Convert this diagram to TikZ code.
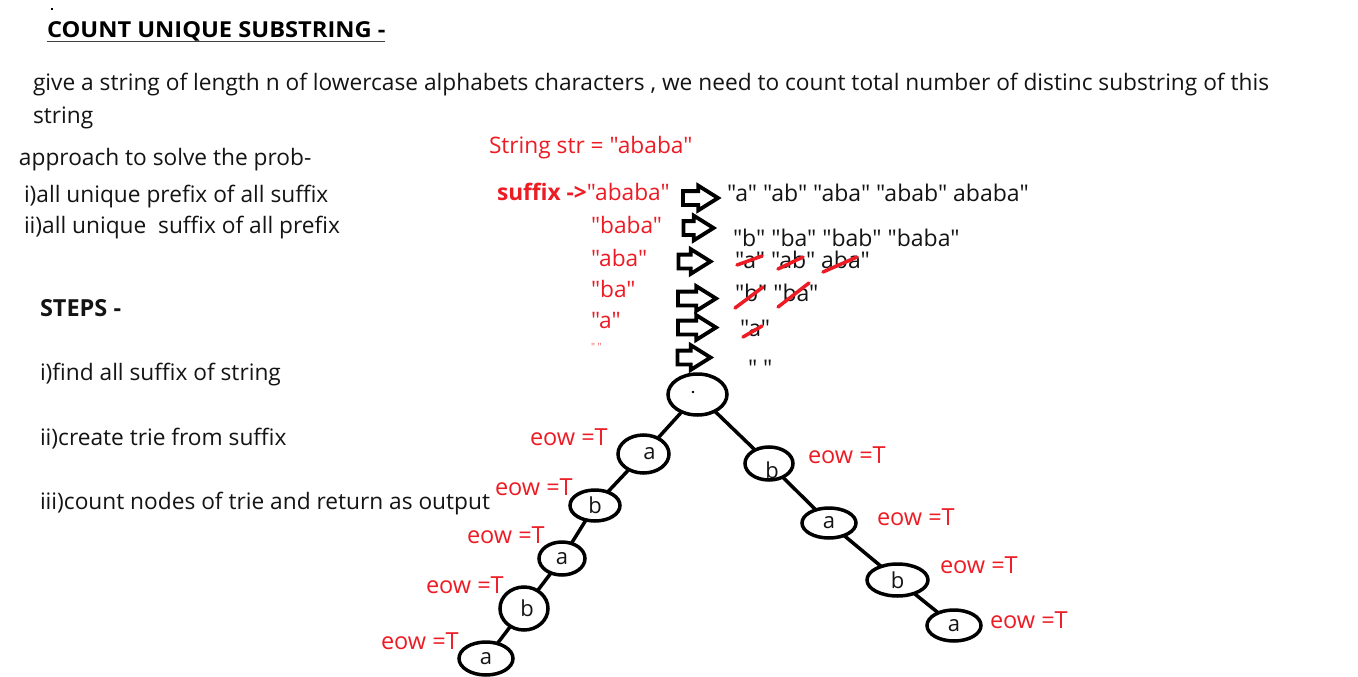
\documentclass[tikz,border=0pt]{standalone}
\usepackage{fontspec}
\setmainfont{Open Sans}[Ligatures=TeXOff]
\usetikzlibrary{shapes.geometric,shapes.arrows}
\definecolor{pred}{RGB}{237,28,36}
\definecolor{ink}{RGB}{20,20,20}
\begin{document}
\begin{tikzpicture}[x=1pt,y=-1pt,
  every node/.style={inner sep=0pt,outer sep=0pt},
  txt/.style={anchor=base west,text=ink,font=\fontsize{22.7}{27}\selectfont},
  ptxt/.style={anchor=base west,text=ink,font=\fontsize{23}{27}\selectfont},
  rtxt/.style={anchor=base west,text=pred,font=\fontsize{22.7}{27}\selectfont},
  eow/.style={anchor=base west,text=pred,font=\fontsize{23.5}{27}\selectfont},
  tnode/.style={draw=black,line width=3.5pt,ellipse,text=ink,font=\fontsize{22}{27}\selectfont},
  tedge/.style={draw=black,line width=3.5pt},
  strike/.style={draw=pred,line width=3.5pt,line cap=round},
  blockarr/.style={single arrow,draw=black,line width=3.8pt,inner xsep=0pt,inner ysep=5pt,
     single arrow head extend=5.5pt,single arrow tip angle=64,anchor=center}]
\useasboundingbox (0,0) rectangle (1358,677);
\fill[white] (0,0) rectangle (1358,677);
% tiny dot
\fill[black] (51,8) rectangle (53,10);
% title
\node[anchor=base west,text=black,font=\fontsize{22}{26}\selectfont\bfseries] (title) at (47,38) {\scalebox{1.075}[1]{COUNT UNIQUE SUBSTRING -}};
\draw[black!75,line width=1.6pt] (title.base west)++(0,3.5) -- ++(338,0);
% left texts
\node[txt] (desc1) at (33,91) {give a string of length n of lowercase alphabets characters , we need to count total number of distinc substring of this};
\node[txt] (desc2) at (33,123) {string};
\node[txt] (appr) at (19,165) {approach to solve the prob-};
\node[txt] (ap1) at (24,202) {i)all unique prefix of all suffix};
\node[txt] (ap2) at (24,233) {ii)all unique~ suffix of all prefix};
\node[anchor=base west,text=ink,font=\fontsize{23.5}{27}\selectfont\bfseries] (steps) at (40,316) {STEPS -};
\node[txt] (st1) at (40,380) {i)find all suffix of string};
\node[txt] (st2) at (40,445) {ii)create trie from suffix};
\node[txt] (st3) at (40,509) {iii)count nodes of trie and return as output};
% red string column
\node[rtxt] (str) at (489,153) {String str = "ababa"};
\node[rtxt] (s1) at (497,200) {\bfseries suffix ->\mdseries"ababa"};
\node[rtxt] (s2) at (591,233) {"baba"};
\node[rtxt] (s3) at (591,266) {"aba"};
\node[rtxt] (s4) at (591,297) {"ba"};
\node[rtxt] (s5) at (591,328) {"a"};
\node[anchor=base west,text=pred!70,font=\fontsize{10}{11}\selectfont] (s6) at (591,350) {" "};
% block arrows
\node[blockarr,minimum height=35pt] (a1) at (695,198) {};
\node[blockarr,minimum height=30pt] (a2) at (693,228) {};
\node[blockarr,minimum height=32pt] (a3) at (689,261.5) {};
\node[blockarr,minimum height=38pt] (a4) at (691.5,298.5) {};
\node[blockarr,minimum height=38pt] (a5) at (691.5,327.5) {};
\node[blockarr,minimum height=33pt] (a6) at (688.5,357.5) {};
% prefixes
\node[ptxt] (p1) at (727,201) {"a" "ab" "aba" "abab" ababa"};
\node[ptxt] (p2) at (733,246) {"b" "ba" "bab" "baba"};
\node[ptxt] (p3) at (735,268) {"a" "ab" aba"};
\node[ptxt] (p4) at (735,301) {"b" "ba"};
\node[ptxt] (p5) at (740,336) {"a"};
\node[ptxt] (p6) at (748,376) {" "};
% strikes
\draw[strike] (737,265) -- (762,256);
\draw[strike] (778,269) -- (803,257);
\draw[strike] (823,272) -- (857,257);
\draw[strike] (735,308) -- (763,287);
\draw[strike] (778,307) -- (809,283);
\draw[strike] (743,337) -- (762,326);
% trie
\node[tnode,minimum width=59pt,minimum height=41pt] (root) at (697.5,394.5) {};
\fill[black] (693,392) circle (1.3);
\node[tnode,minimum width=51pt,minimum height=38pt] (la1) at (643.5,454) {\hspace*{12pt}a};
\node[tnode,minimum width=50pt,minimum height=31pt] (lb1) at (595,505.5) {b};
\node[tnode,minimum width=46pt,minimum height=33pt] (la2) at (562,558.5) {a};
\node[tnode,minimum width=48pt,minimum height=43pt] (lb2) at (524,608.5) {\hspace*{6pt}b};
\node[tnode,minimum width=54pt,minimum height=33pt] (la3) at (486,658.5) {a};
\node[tnode,minimum width=48pt,minimum height=33pt] (rb1) at (769,463.5) {\hspace*{6pt}\smash{\raisebox{-15pt}{b}}};
\node[tnode,minimum width=54pt,minimum height=30pt] (ra1) at (829,523) {a};
\node[tnode,minimum width=61pt,minimum height=32pt] (rb2) at (897.5,580) {b};
\node[tnode,minimum width=54pt,minimum height=31pt] (ra2) at (954,625.5) {a};
\draw[tedge] (root) -- (la1);
\draw[tedge] (la1) -- (lb1);
\draw[tedge] (lb1) -- (la2);
\draw[tedge] (la2) -- (lb2);
\draw[tedge] (lb2) -- (la3);
\draw[tedge] (root) -- (rb1);
\draw[tedge] (rb1) -- (ra1);
\draw[tedge] (ra1) -- (rb2);
\draw[tedge] (rb2) -- (ra2);
% eow labels
\node[eow] (e1) at (530,445) {eow =T};
\node[eow] (e2) at (495,495) {eow =T};
\node[eow] (e3) at (467,543) {eow =T};
\node[eow] (e4) at (426,593) {eow =T};
\node[eow] (e5) at (381,649) {eow =T};
\node[eow] (e6) at (808,463) {eow =T};
\node[eow] (e7) at (877,525) {eow =T};
\node[eow] (e8) at (940,573) {eow =T};
\node[eow] (e9) at (990,628) {eow =T};
\end{tikzpicture}
\end{document}
